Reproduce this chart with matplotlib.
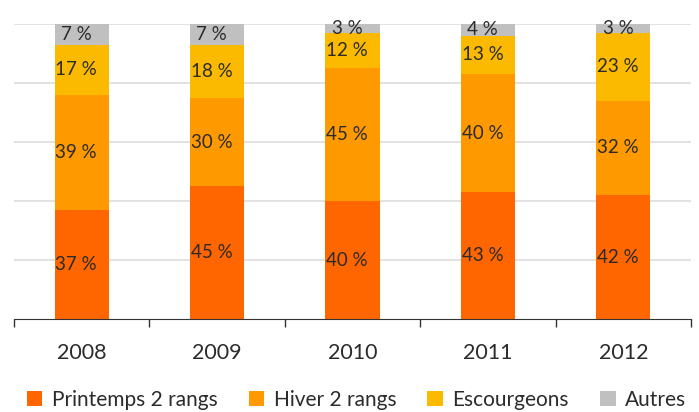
import matplotlib.pyplot as plt
import numpy as np

years = ['2008', '2009', '2010', '2011', '2012']
series = ['Printemps 2 rangs', 'Hiver 2 rangs', 'Escourgeons', 'Autres']
printemps = [37, 45, 40, 43, 42]
hiver = [39, 30, 45, 40, 32]
escourgeons = [17, 18, 12, 13, 23]
autres = [7, 7, 3, 4, 3]
colors = ['#FF6600', '#FF9900', '#FBBA00', '#C0C0C0']

plt.rcParams['font.family'] = ['Lato', 'DejaVu Sans']
txt = '#2b2b2b'

fig = plt.figure(figsize=(6.99, 4.12), dpi=100)
ax = fig.add_axes([0.02, 0.2257, 0.9686, 0.716])

x = np.arange(len(years))
bottom = np.zeros(len(years))
handles = []
for vals, col, name in zip([printemps, hiver, escourgeons, autres], colors, series):
    vals = np.array(vals, dtype=float)
    b = ax.bar(x, vals, 0.4, bottom=bottom, color=col, label=name, zorder=2)
    handles.append(b)
    for xi, v, b0 in zip(x, vals, bottom):
        ax.text(xi - 0.04, b0 + v / 2, f'{int(v)} %', ha='center', va='center',
                fontsize=13.5, color=txt, zorder=3)
    bottom += vals

ax.set_xlim(-0.5, len(years) - 0.5)
ax.set_ylim(0, 100)
ax.set_yticks([20, 40, 60, 80, 100])
ax.yaxis.grid(True, color='#DDDDDD', linewidth=1.2, zorder=0)
ax.tick_params(axis='y', length=0, labelleft=False)
ax.set_xticks(x)
ax.set_xticklabels(years, fontsize=15.5, color=txt)
ax.tick_params(axis='x', length=0, pad=17)
ax.set_xticks(np.arange(len(years) + 1) - 0.5, minor=True)
ax.tick_params(axis='x', which='minor', length=6, width=1, color='#333333', direction='out')
for s in ['left', 'right', 'top']:
    ax.spines[s].set_visible(False)
ax.spines['bottom'].set_color('#333333')

fig.legend(handles=handles, labels=series, loc='lower center', bbox_to_anchor=(0.51, -0.04),
           ncol=4, frameon=False, fontsize=15, handlelength=0.75, handleheight=0.75,
           handletextpad=0.45, columnspacing=1.5, labelcolor=txt)

fig.savefig('out.png', dpi=100)
